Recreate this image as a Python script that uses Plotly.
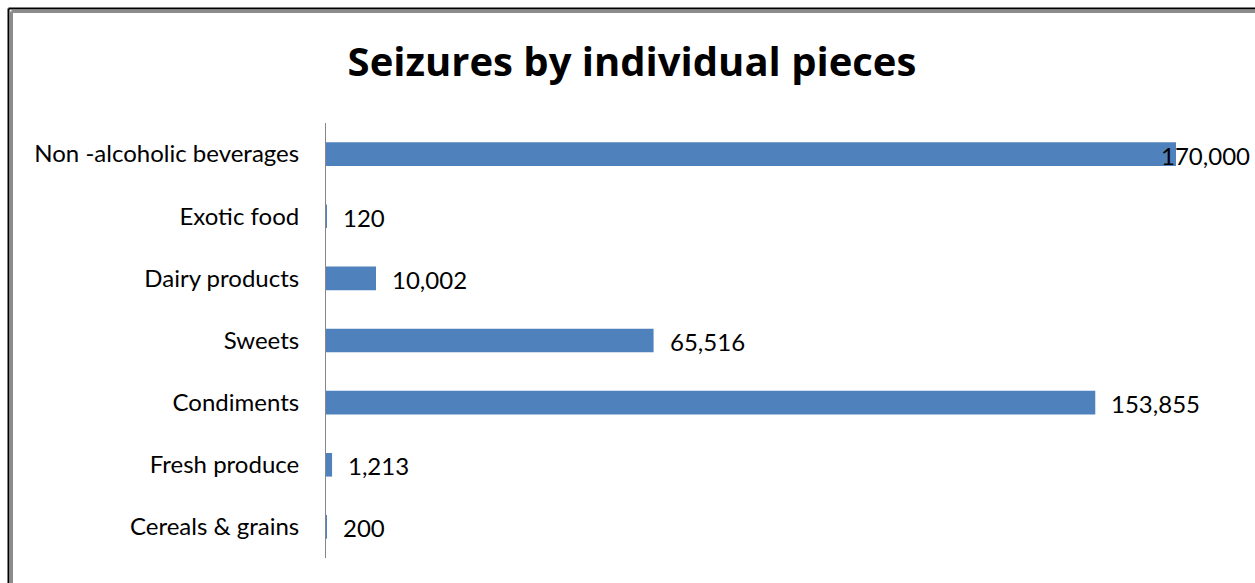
import plotly.graph_objects as go

categories = ["Cereals & grains", "Fresh produce", "Condiments", "Sweets",
              "Dairy products", "Exotic food", "Non -alcoholic beverages"]
values = [200, 1213, 153855, 65516, 10002, 120, 170000]
value_labels = ["200", "1,213", "153,855", "65,516", "10,002", "120", "170,000"]

# body margin is removed by post_script, so figure coordinates = screen coordinates
OFF = 0
W, H = 1255, 583
L, R, T = 326, 0, 123
B = H - 558
plot_w = W - L - R
plot_h = H - T - B
XMAX = 170000 / (1176 - 326) * plot_w

FONT = "Lato, 'Open Sans', sans-serif"
TFONT = "'Open Sans', Lato, sans-serif"
BAR = "#4F81BD"

fig = go.Figure(go.Bar(
    y=categories, x=values, orientation="h",
    marker=dict(color=BAR, line=dict(width=0)),
    width=0.38, hoverinfo="x+y",
))

annotations = []
for c, v, lab in zip(categories, values, value_labels):
    px_end = v / XMAX * plot_w
    shift = 14 if px_end + 14 + 95 < plot_w else -17
    annotations.append(dict(x=v, y=c, xref="x", yref="y", text=lab, showarrow=False,
                            xanchor="left", yanchor="middle", xshift=shift, yshift=-1,
                            font=dict(family=FONT, size=24, color="#000000")))

def px_x(p):
    return (p - OFF - L) / plot_w

def px_y(p):
    return 1 - (p - OFF - T) / plot_h

shapes = [
    dict(type="line", xref="paper", yref="paper", x0=px_x(8.5), x1=px_x(8.5), y0=px_y(8.5), y1=px_y(583 + 20),
         line=dict(color="#000000", width=2)),
    dict(type="line", xref="paper", yref="paper", x0=px_x(8.5), x1=px_x(1255 + 20), y0=px_y(8.5), y1=px_y(8.5),
         line=dict(color="#000000", width=2)),
    dict(type="line", xref="paper", yref="paper", x0=px_x(11.5), x1=px_x(11.5), y0=px_y(11.5), y1=px_y(583 + 20),
         line=dict(color="#8c8c8c", width=3)),
    dict(type="line", xref="paper", yref="paper", x0=px_x(11.5), x1=px_x(1255 + 20), y0=px_y(11.5), y1=px_y(11.5),
         line=dict(color="#8c8c8c", width=3)),
]

fig.update_layout(
    width=W, height=H,
    margin=dict(l=L, r=R, t=T, b=B, autoexpand=False),
    paper_bgcolor="white", plot_bgcolor="white",
    title=dict(text="<b>Seizures by individual pieces</b>", x=(632 - OFF) / W, xanchor="center",
               y=1 - (62 - OFF) / H, yanchor="middle",
               font=dict(family=TFONT, size=40, color="#000000")),
    xaxis=dict(range=[0, XMAX], showgrid=False, zeroline=False, showticklabels=False,
               showline=False, ticks=""),
    yaxis=dict(showgrid=False, zeroline=False, showline=True, linecolor="#868686", linewidth=1,
               ticks="", ticklabelstandoff=21,
               tickfont=dict(family=FONT, size=24, color="#000000")),
    bargap=0.62,
    showlegend=False,
    annotations=annotations,
    shapes=shapes,
)

fig.write_html("out.html", config={"displayModeBar": False},
               post_script="document.body.style.margin='0';document.body.style.overflow='hidden';")
